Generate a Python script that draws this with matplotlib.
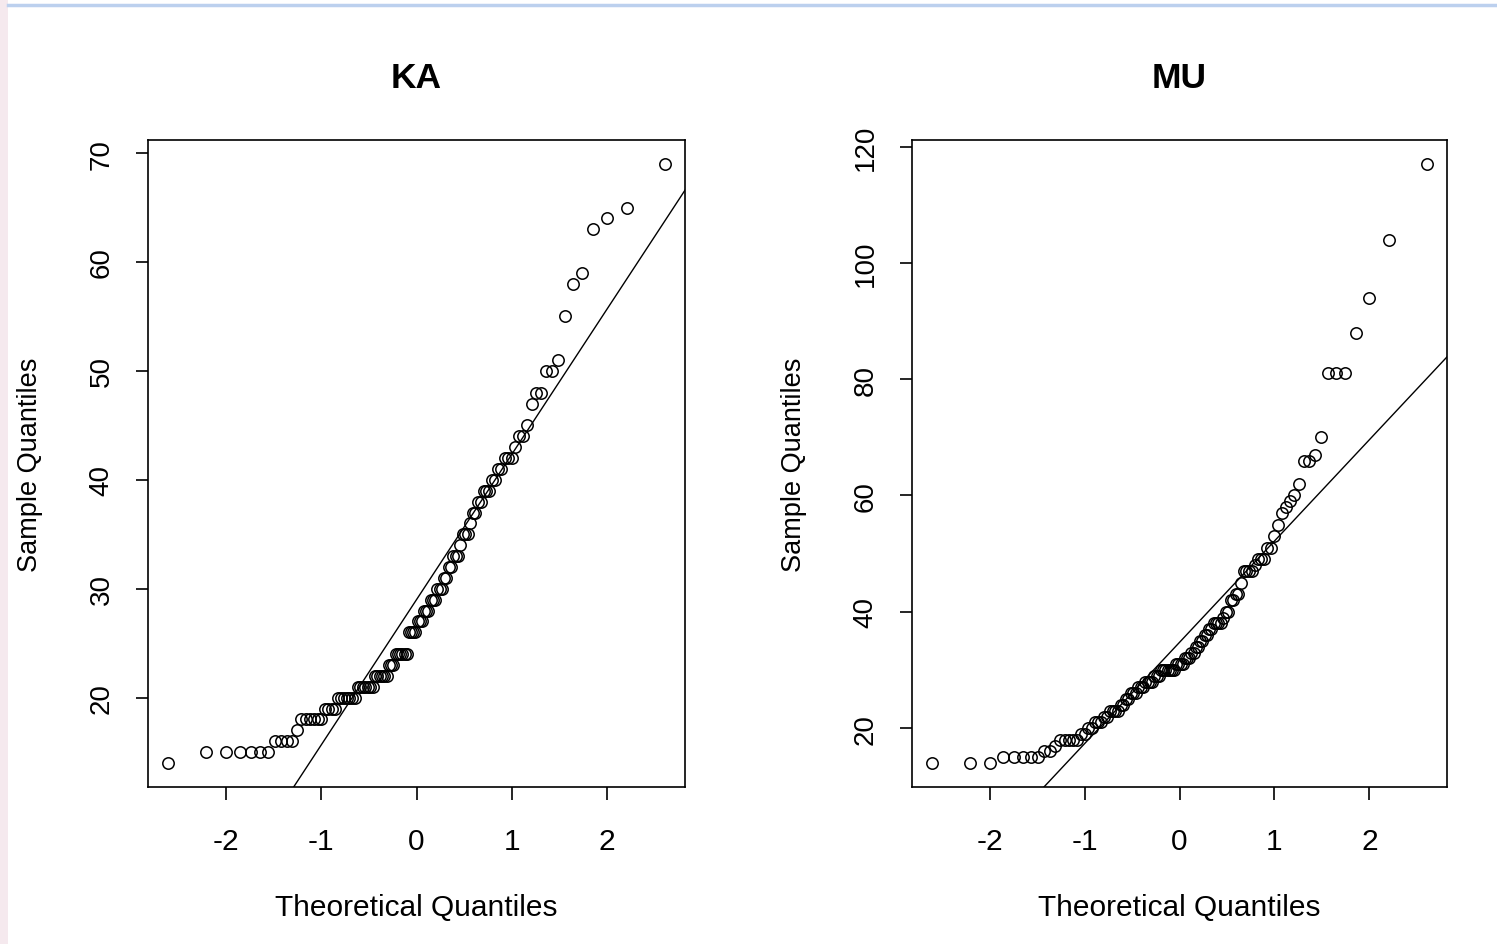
import numpy as np
from statistics import NormalDist
import matplotlib
matplotlib.use("Agg")
from matplotlib import pyplot as plt
from matplotlib.lines import Line2D
from matplotlib.patches import Rectangle

# sorted sample values (n = 110 each)
ka = [14,
      15, 15, 15, 15, 15, 15,
      16, 16, 16, 16,
      17,
      18, 18, 18, 18, 18, 18,
      19, 19, 19, 19,
      20, 20, 20, 20, 20, 20, 20,
      21, 21, 21, 21, 21, 21, 21,
      22, 22, 22, 22, 22, 22,
      23, 23, 23,
      24, 24, 24, 24, 24, 24,
      26, 26, 26, 26,
      27, 27, 27,
      28, 28, 28,
      29, 29, 29,
      30, 30, 30,
      31, 31,
      32, 32,
      33, 33, 33,
      34,
      35, 35, 35,
      36,
      37, 37,
      38, 38,
      39, 39, 39,
      40, 40,
      41, 41,
      42, 42, 42,
      43,
      44, 44,
      45,
      47,
      48, 48,
      50, 50,
      51, 55, 58, 59, 63, 64, 65, 69]

mu = [14, 14, 14,
      15, 15, 15, 15, 15,
      16, 16,
      17,
      18, 18, 18, 18, 18,
      19, 19,
      20, 20,
      21, 21, 21,
      22, 22,
      23, 23, 23, 23,
      24, 24,
      25, 25,
      26, 26, 26,
      27, 27, 27,
      28, 28, 28, 28,
      29, 29, 29,
      30, 30, 30, 30, 30, 30, 30,
      31, 31, 31, 31,
      32, 32, 32,
      33, 33,
      34, 34,
      35, 35,
      36, 36,
      37, 37,
      38, 38, 38, 38,
      39,
      40, 40,
      42, 42,
      43, 43,
      45,
      47, 47, 47, 47,
      48,
      49, 49, 49,
      51, 51,
      53, 55, 57, 58, 59, 60, 62,
      66, 66,
      67, 70,
      81, 81, 81,
      88, 94, 104, 117]

titles = ["KA", "MU"]
samples = [ka, mu]


def ppoints(n):
    a = 3 / 8 if n <= 10 else 0.5
    return (np.arange(1, n + 1) - a) / (n + 1 - 2 * a)


def quantile7(y, p):
    y = np.sort(y)
    h = (len(y) - 1) * p
    lo = int(np.floor(h))
    return y[lo] + (h - lo) * (y[min(lo + 1, len(y) - 1)] - y[lo])


plt.rcParams['font.family'] = ['Liberation Sans', 'DejaVu Sans']

fig = plt.figure(figsize=(14.97, 9.45), dpi=100)

# screenshot frame: pale left strip and light blue rule at top
fig.add_artist(Rectangle((0, 0), 8 / 1497, 1, transform=fig.transFigure,
                         facecolor="#f5e9ee", edgecolor="none"))
fig.add_artist(Line2D([8 / 1497, 1], [1 - 5.5 / 945, 1 - 5.5 / 945],
                      transform=fig.transFigure, color="#bcd0ee", lw=2.5))

boxes = [[148 / 1497, 157 / 945, 537 / 1497, 647 / 945],
         [912 / 1497, 157 / 945, 535 / 1497, 647 / 945]]

for box, name, y in zip(boxes, titles, samples):
    ax = fig.add_axes(box)
    y = np.sort(np.array(y, dtype=float))
    n = len(y)
    x = np.array([NormalDist().inv_cdf(p) for p in ppoints(n)])

    ax.plot(x, y, "o", mfc="none", mec="black", ms=8.2, mew=1.1)

    # qqline through the quartiles
    q1, q3 = quantile7(y, 0.25), quantile7(y, 0.75)
    z1, z3 = NormalDist().inv_cdf(0.25), NormalDist().inv_cdf(0.75)
    slope = (q3 - q1) / (z3 - z1)
    inter = q1 - slope * z1

    xr = x.max() - x.min()
    yr = y.max() - y.min()
    ax.set_xlim(x.min() - 0.04 * xr, x.max() + 0.04 * xr)
    ax.set_ylim(y.min() - 0.04 * yr, y.max() + 0.04 * yr)
    xl = np.array(ax.get_xlim())
    ax.plot(xl, inter + slope * xl, color="black", lw=1.0)

    ax.set_xticks([-2, -1, 0, 1, 2])
    ax.set_xticklabels(["-2", "-1", "0", "1", "2"])
    if name == "KA":
        ax.set_yticks([20, 30, 40, 50, 60, 70])
    else:
        ax.set_yticks([20, 40, 60, 80, 100, 120])
    for lab in ax.get_yticklabels():
        lab.set_rotation(90)
        lab.set_va("center")

    ax.tick_params(axis="x", direction="out", length=9, width=1.2,
                   labelsize=21.5, color="black", pad=19.5)
    ax.tick_params(axis="y", direction="out", length=9, width=1.2,
                   labelsize=20, color="black", pad=15)
    for s in ax.spines.values():
        s.set_linewidth(1.2)

    ax.set_title(name, fontsize=25.5, fontweight="bold", pad=38)
    ax.set_xlabel("Theoretical Quantiles", fontsize=21.5, labelpad=28)
    ax.set_ylabel("Sample Quantiles", fontsize=19.5, labelpad=33)

fig.savefig("out.png", dpi=100)
